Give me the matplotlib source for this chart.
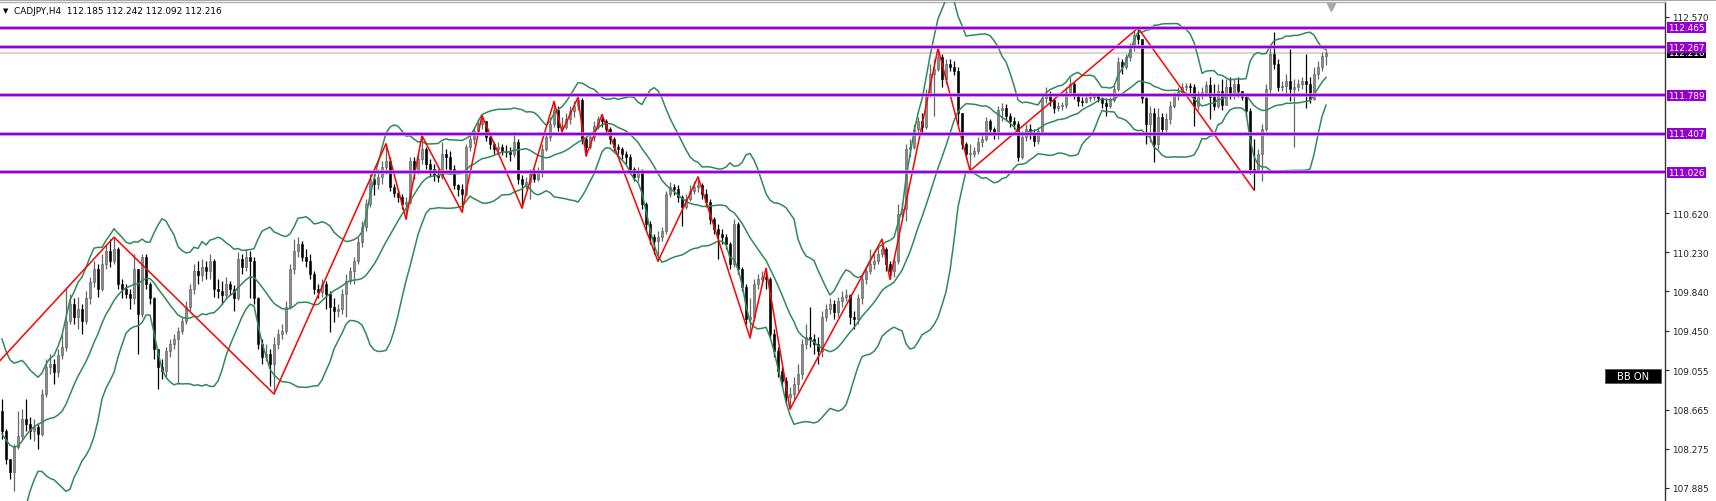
import numpy as np
import pandas as pd
import matplotlib
matplotlib.use("Agg")
import matplotlib.pyplot as plt
import matplotlib.transforms as mtransforms
from matplotlib.patches import Rectangle
from matplotlib.lines import Line2D

# ---- data (CADJPY H4) ----
header = "CADJPY,H4  112.185 112.242 112.092 112.216"

first_open = 108.65

closes = [
    108.45, 108.17, 108.04, 108.29, 108.40, 108.57, 108.52, 108.45, 108.49, 108.42,
    108.82, 109.09, 109.12, 109.04, 109.21, 109.29, 109.55, 109.72, 109.59, 109.67,
    109.55, 109.77, 109.93, 110.06, 109.86, 110.11, 110.24, 110.14, 110.26, 109.91,
    109.86, 109.81, 109.77, 110.06, 109.62, 110.18, 109.91, 109.77, 109.27, 109.09,
    109.05, 109.25, 109.32, 109.37, 109.45, 109.55, 109.69, 109.86, 110.04, 110.00,
    110.08, 110.04, 110.14, 109.86, 109.84, 109.80, 109.91, 109.86, 109.77, 110.16,
    110.08, 110.18, 110.14, 109.77, 109.32, 109.19, 109.22, 109.12, 109.32, 109.42,
    109.45, 109.69, 110.06, 110.24, 110.31, 110.18, 110.14, 110.01, 109.86, 109.83,
    109.91, 109.81, 109.69, 109.65, 109.67, 109.81, 109.94, 110.04, 110.14, 110.33,
    110.48, 110.71, 110.96, 110.91, 110.98, 111.08, 111.14, 110.88, 110.82, 110.78,
    110.71, 110.73, 111.14, 111.04, 111.16, 111.26, 111.11, 111.06, 111.00, 110.98,
    111.21, 111.18, 111.06, 110.90, 110.86, 110.81, 111.28, 111.36, 111.44, 111.51,
    111.54, 111.38, 111.31, 111.26, 111.28, 111.24, 111.23, 111.21, 111.33, 110.96,
    110.91, 110.93, 111.01, 110.96, 111.04, 111.26, 111.38, 111.51, 111.64, 111.48,
    111.48, 111.56, 111.63, 111.68, 111.74, 111.36, 111.28, 111.38, 111.49, 111.56,
    111.54, 111.46, 111.36, 111.28, 111.26, 111.21, 111.18, 111.06, 110.98, 111.04,
    110.71, 110.51, 110.38, 110.34, 110.38, 110.44, 110.81, 110.88, 110.86, 110.78,
    110.68, 110.76, 110.84, 110.88, 110.90, 110.81, 110.73, 110.56, 110.46, 110.41,
    110.38, 110.31, 110.11, 110.51, 110.06, 109.88, 109.57, 109.59, 109.91, 109.96,
    109.98, 109.96, 109.42, 109.25, 109.05, 108.95, 108.79, 108.82, 108.92, 109.02,
    109.32, 109.39, 109.37, 109.32, 109.25, 109.59, 109.67, 109.72, 109.64, 109.74,
    109.78, 109.80, 109.59, 109.57, 109.77, 109.96, 110.04, 110.11, 110.14, 110.21,
    110.26, 110.11, 110.04, 110.14, 110.61, 110.66, 111.26, 111.28, 111.46, 111.54,
    111.48, 111.80, 112.00, 112.05, 112.17, 111.95, 112.10, 112.07, 112.03, 111.61,
    111.31, 111.21, 111.21, 111.24, 111.33, 111.36, 111.54, 111.46, 111.41, 111.64,
    111.66, 111.59, 111.54, 111.51, 111.18, 111.38, 111.46, 111.41, 111.34, 111.44,
    111.76, 111.80, 111.74, 111.66, 111.68, 111.69, 111.82, 111.90, 111.79, 111.73,
    111.72, 111.76, 111.77, 111.78, 111.76, 111.71, 111.68, 111.74, 111.85, 112.12,
    112.07, 112.17, 112.27, 112.39, 112.35, 111.76, 111.51, 111.61, 111.31, 111.58,
    111.46, 111.56, 111.68, 111.78, 111.82, 111.87, 111.88, 111.87, 111.68, 111.78,
    111.82, 111.89, 111.77, 111.68, 111.83, 111.69, 111.87, 111.79, 111.90, 111.83,
    111.77, 111.63, 111.06, 111.04, 111.21, 111.46, 111.85, 112.20, 112.10, 111.87,
    111.88, 111.93, 111.85, 111.87, 111.90, 111.93, 111.90, 111.75, 112.00, 112.07,
    112.185, 112.216,
]

highs = [
    108.77, 108.47, 108.17, 108.32, 108.65, 108.67, 108.77, 108.59, 108.57, 108.52,
    108.87, 109.17, 109.22, 109.17, 109.27, 109.42, 109.88, 109.81, 109.77, 109.78,
    109.72, 109.84, 109.98, 110.14, 110.11, 110.21, 110.31, 110.36, 110.38, 110.28,
    109.96, 109.91, 109.86, 110.21, 110.06, 110.21, 110.21, 109.93, 109.78, 109.27,
    109.17, 109.29, 109.37, 109.42, 109.49, 109.59, 109.74, 109.91, 110.11, 110.14,
    110.16, 110.14, 110.21, 110.16, 109.96, 109.94, 109.98, 109.94, 109.90, 110.23,
    110.21, 110.26, 110.24, 110.18, 109.78, 109.37, 109.32, 109.27, 109.39, 109.47,
    109.52, 109.74, 110.11, 110.36, 110.38, 110.34, 110.26, 110.21, 110.04, 109.91,
    109.96, 109.94, 109.84, 109.77, 109.72, 109.86, 110.01, 110.08, 110.18, 110.38,
    110.54, 110.76, 111.01, 111.01, 111.06, 111.14, 111.31, 111.18, 110.91, 110.86,
    110.81, 110.78, 111.18, 111.18, 111.22, 111.39, 111.28, 111.16, 111.11, 111.06,
    111.33, 111.26, 111.24, 111.10, 110.91, 110.91, 111.31, 111.40, 111.48, 111.56,
    111.59, 111.52, 111.41, 111.33, 111.33, 111.31, 111.30, 111.28, 111.43, 111.36,
    111.00, 110.98, 111.06, 111.06, 111.08, 111.31, 111.42, 111.58, 111.73, 111.68,
    111.58, 111.61, 111.68, 111.73, 111.77, 111.76, 111.38, 111.43, 111.54, 111.59,
    111.60, 111.56, 111.48, 111.38, 111.31, 111.28, 111.24, 111.21, 111.08, 111.08,
    111.06, 110.73, 110.54, 110.41, 110.44, 110.48, 110.84, 110.93, 110.91, 110.90,
    110.80, 110.81, 110.90, 110.94, 110.98, 110.92, 110.86, 110.76, 110.58, 110.51,
    110.46, 110.41, 110.33, 110.56, 110.53, 110.08, 109.91, 109.77, 109.96, 110.01,
    110.04, 110.07, 109.98, 109.47, 109.29, 109.09, 108.99, 108.89, 108.99, 109.12,
    109.37, 109.52, 109.69, 109.42, 109.39, 109.65, 109.72, 109.77, 109.75, 109.78,
    109.84, 109.86, 109.81, 109.65, 109.81, 110.01, 110.08, 110.26, 110.21, 110.28,
    110.36, 110.28, 110.14, 110.18, 110.71, 110.73, 111.31, 111.36, 111.51, 111.58,
    111.61, 111.85, 112.10, 112.15, 112.26, 112.20, 112.15, 112.15, 112.13, 112.07,
    111.61, 111.33, 111.31, 111.28, 111.38, 111.41, 111.58, 111.56, 111.48, 111.68,
    111.71, 111.70, 111.61, 111.58, 111.54, 111.44, 111.51, 111.51, 111.46, 111.48,
    111.79, 111.87, 111.83, 111.76, 111.72, 111.72, 111.87, 111.97, 111.93, 111.81,
    111.77, 111.79, 111.82, 111.81, 111.80, 111.77, 111.76, 111.77, 111.89, 112.17,
    112.15, 112.20, 112.31, 112.43, 112.46, 112.35, 111.77, 111.68, 111.66, 111.66,
    111.61, 111.61, 111.73, 111.82, 111.87, 111.91, 111.91, 111.91, 111.90, 111.83,
    111.87, 111.93, 111.97, 111.90, 111.90, 111.95, 111.95, 111.97, 111.95, 111.97,
    111.83, 111.78, 111.66, 111.36, 111.26, 111.51, 111.90, 112.30, 112.42, 112.15,
    111.93, 112.00, 112.25, 111.95, 111.95, 111.97, 112.20, 111.97, 112.07, 112.13,
    112.22, 112.242,
]

lows = [
    108.37, 108.12, 107.97, 107.85, 108.27, 108.37, 108.45, 108.37, 108.35, 108.27,
    108.40, 108.79, 109.02, 108.92, 108.99, 109.17, 109.25, 109.52, 109.52, 109.47,
    109.42, 109.52, 109.72, 109.88, 109.78, 109.84, 110.06, 110.08, 110.11, 109.86,
    109.77, 109.77, 109.67, 109.72, 109.22, 109.59, 109.86, 109.72, 109.17, 108.87,
    108.97, 108.99, 109.19, 109.27, 108.92, 109.42, 109.52, 109.65, 109.81, 109.91,
    109.94, 109.96, 109.96, 109.78, 109.77, 109.72, 109.77, 109.80, 109.65, 109.75,
    110.01, 110.04, 109.77, 109.72, 109.27, 109.12, 109.15, 108.90, 108.82, 109.27,
    109.37, 109.42, 109.67, 110.01, 110.18, 110.14, 110.08, 109.96, 109.81, 109.77,
    109.78, 109.67, 109.44, 109.54, 109.59, 109.62, 109.59, 109.91, 109.91, 110.11,
    110.28, 110.44, 110.68, 110.80, 110.86, 110.91, 111.01, 110.84, 110.78, 110.73,
    110.66, 110.56, 110.71, 110.96, 111.01, 111.11, 111.06, 110.98, 110.94, 110.93,
    110.96, 111.06, 111.01, 110.86, 110.79, 110.63, 110.79, 111.24, 111.31, 111.41,
    111.46, 111.34, 111.26, 111.21, 111.21, 111.20, 111.18, 111.14, 111.18, 110.91,
    110.67, 110.86, 110.76, 110.93, 110.94, 110.98, 111.24, 111.34, 111.48, 111.44,
    111.43, 111.46, 111.51, 111.58, 111.64, 111.31, 111.19, 111.26, 111.34, 111.46,
    111.48, 111.41, 111.31, 111.24, 111.21, 111.16, 111.11, 111.01, 110.94, 110.94,
    110.66, 110.44, 110.31, 110.21, 110.14, 110.34, 110.41, 110.78, 110.80, 110.73,
    110.49, 110.66, 110.74, 110.81, 110.83, 110.76, 110.68, 110.51, 110.41, 110.16,
    110.31, 110.26, 110.06, 110.08, 110.01, 109.84, 109.52, 109.38, 109.55, 109.86,
    109.91, 109.86, 109.37, 109.19, 108.99, 108.89, 108.72, 108.67, 108.77, 108.85,
    108.97, 109.27, 109.29, 109.22, 109.12, 109.19, 109.55, 109.62, 109.57, 109.59,
    109.69, 109.74, 109.52, 109.47, 109.52, 109.72, 109.91, 110.01, 110.06, 110.11,
    110.18, 110.04, 109.96, 109.98, 110.11, 110.58, 110.54, 111.18, 111.26, 111.41,
    111.41, 111.46, 111.77, 111.59, 112.03, 111.87, 111.90, 112.03, 111.99, 111.51,
    111.26, 111.16, 111.04, 111.18, 111.21, 111.28, 111.34, 111.41, 111.36, 111.36,
    111.54, 111.54, 111.48, 111.46, 111.14, 111.16, 111.34, 111.36, 111.29, 111.31,
    111.41, 111.71, 111.68, 111.61, 111.63, 111.64, 111.66, 111.79, 111.75, 111.68,
    111.68, 111.71, 111.73, 111.74, 111.72, 111.66, 111.59, 111.66, 111.72, 111.83,
    112.00, 112.05, 112.13, 112.23, 112.30, 111.71, 111.31, 111.33, 111.13, 111.26,
    111.41, 111.43, 111.51, 111.66, 111.74, 111.80, 111.83, 111.81, 111.49, 111.64,
    111.75, 111.80, 111.56, 111.64, 111.66, 111.64, 111.77, 111.75, 111.75, 111.77,
    111.74, 111.58, 111.01, 110.85, 111.04, 110.94, 111.44, 111.80, 112.05, 111.83,
    111.83, 111.80, 111.73, 111.28, 111.83, 111.85, 111.66, 111.71, 111.74, 111.95,
    112.03, 112.092,
]

# closes left of the visible window, only needed to seed the bands
earlier_closes = [109.10, 108.90, 108.60, 108.20, 107.80, 107.60, 107.70, 107.90, 108.00,
                  108.50, 108.70, 108.90, 108.90, 108.80, 108.70]
bb_period = 16
bb_dev = 2.0

zz_bars = [-1, 28, 68, 96, 101, 105, 115, 120, 130, 138, 140, 144, 146, 150, 164, 174,
           187, 191, 197, 220, 222, 234, 242, 284, 313]
zz_prices = [109.13, 110.38, 108.82, 111.31, 110.56, 111.39, 110.63, 111.59, 110.67, 111.73,
             111.43, 111.77, 111.19, 111.60, 110.14, 110.98, 109.38, 110.07, 108.67, 110.36,
             109.96, 112.26, 111.04, 112.46, 110.85]

level_prices = [112.465, 112.267, 111.789, 111.407, 111.026]
bid_price = 112.216
tick_prices = [112.570, 110.620, 110.230, 109.840, 109.450, 109.055, 108.665, 108.275, 107.885]

assert len(closes) == len(highs) == len(lows), (len(closes), len(highs), len(lows))

# ---- bollinger bands ----
s = pd.Series(earlier_closes + closes)
mid = s.rolling(bb_period).mean().to_numpy()[len(earlier_closes):]
sd = s.rolling(bb_period).std(ddof=0).to_numpy()[len(earlier_closes):]
upper = mid + bb_dev * sd
lower = mid - bb_dev * sd

n = len(closes)
x = np.arange(n)
c = np.array(closes)
o = np.array([first_open] + closes[:-1])
h = np.array(highs)
l = np.array(lows)
up = c >= o

W, H, DPI = 1716, 502, 100
fig = plt.figure(figsize=(W / DPI, H / DPI), dpi=DPI)
ax = fig.add_axes([0, 0, 1665 / W, 499 / H])
ax.set_xlim(-0.5, 415.75)
ax.set_ylim(107.7555, 112.719)

# candles
ax.vlines(x, l, h, colors=np.where(up, "#666666", "black"), linewidth=0.9, zorder=2)
ax.bar(x, np.maximum(np.abs(c - o), 0.006), width=0.7, bottom=np.minimum(o, c),
       color=np.where(up, "#8e8e8e", "black"), edgecolor=np.where(up, "#555555", "black"),
       linewidth=0.4, zorder=2)

# bands
band_col = "#2e8b57"
for band in (upper, mid, lower):
    ax.plot(x, band, color=band_col, linewidth=1.1, zorder=3)

# zigzag
ax.plot(zz_bars, zz_prices, color="#ff0000", linewidth=1.1, zorder=4)

# bid line
ax.axhline(bid_price, color="#d4d4d4", linewidth=1.4, zorder=1)

# levels
violet = "#9400d3"
for p in level_prices:
    ax.axhline(p, color="#c58be6", linewidth=2.6, zorder=5)
    ax.axhline(p, color=violet, linewidth=1.5, zorder=5)

# price scale
ax.yaxis.tick_right()
ax.set_yticks(tick_prices)
ax.set_yticklabels([f"{t:.3f}" for t in tick_prices])
ax.tick_params(axis="y", direction="out", length=3, width=0.8, pad=2, labelsize=6.4,
               colors="#222222")
ax.set_xticks([])
for side in ("left", "bottom"):
    ax.spines[side].set_visible(False)
ax.spines["right"].set_color("#333333")
ax.spines["right"].set_linewidth(1.0)
ax.spines["top"].set_color("#b0b0b0")
ax.spines["top"].set_linewidth(1.0)

tr = mtransforms.blended_transform_factory(ax.transAxes, ax.transData)
ax.text(1.0018, bid_price, f"{bid_price:.3f}", transform=tr, ha="left", va="center",
        color="white", fontsize=6.4, clip_on=False, zorder=6,
        bbox=dict(boxstyle="square,pad=0.12", fc="black", ec="none"))
for p in level_prices:
    ax.text(1.0018, p, f"{p:.3f}", transform=tr, ha="left", va="center",
            color="white", fontsize=6.4, clip_on=False, zorder=7,
            bbox=dict(boxstyle="square,pad=0.12", fc=violet, ec="none"))

# header
ax.text(0.0018, 0.983, "\u25bc", transform=ax.transAxes, fontsize=5, va="center",
        ha="left", color="black")
ax.text(0.0085, 0.983, header, transform=ax.transAxes, fontsize=6.4, va="center",
        ha="left", color="black")

# BB ON button
ax.add_patch(Rectangle((1605 / 1665, 118 / 499), 56 / 1665, 14 / 499,
                       transform=ax.transAxes, fc="black", ec="#555555", lw=0.6, zorder=6))
ax.text(1633 / 1665, 125 / 499, "BB ON", transform=ax.transAxes, color="white",
        fontsize=7.2, ha="center", va="center", zorder=7)

# chart shift marker
shift_tr = mtransforms.blended_transform_factory(ax.transData, ax.transAxes)
ax.plot([n + 0.2], [0.99], marker="v", markersize=6, color="#a8a8a8", transform=shift_tr,
        clip_on=False, zorder=6)

fig.add_artist(Line2D([0, 1], [0.999, 0.999], color="#9a9a9a", linewidth=1.2))

fig.savefig("out.png", dpi=DPI)
